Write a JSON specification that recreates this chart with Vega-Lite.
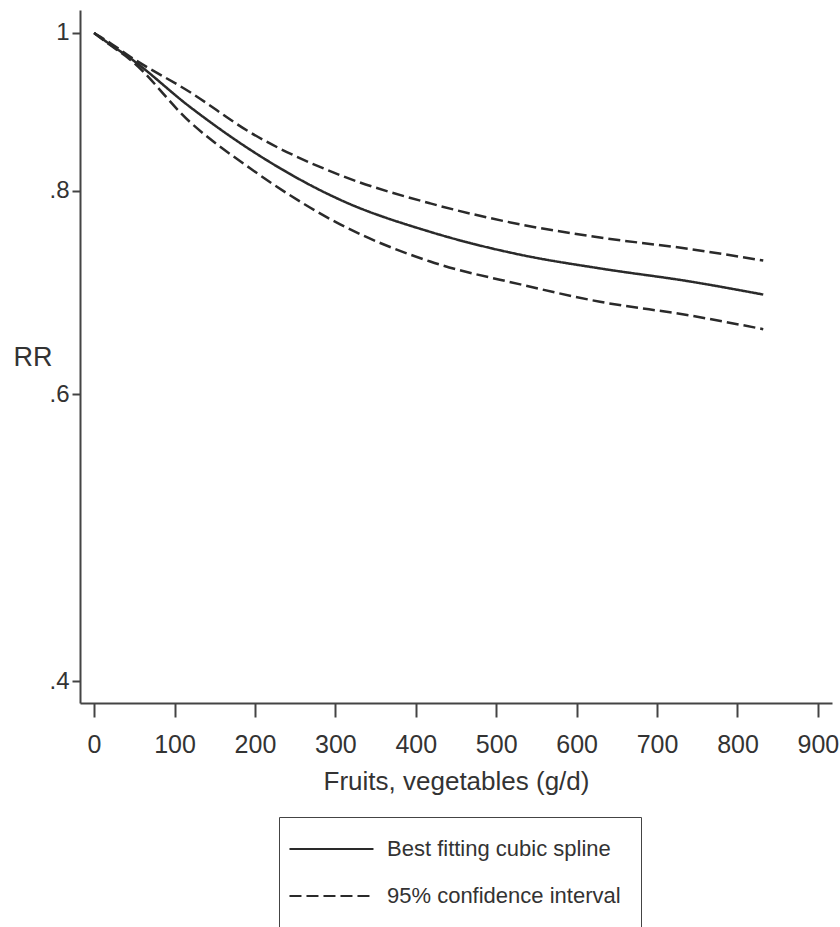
{
  "$schema": "https://vega.github.io/schema/vega-lite/v6.json",
  "width": 752,
  "height": 693,
  "autosize": "none",
  "padding": {"left": 80, "top": 10, "right": 8, "bottom": 224},
  "background": "white",
  "config": {
    "font": "Liberation Sans, Arial, sans-serif",
    "view": {"stroke": null},
    "axis": {"grid": false, "domainColor": "#444", "domainWidth": 2, "tickColor": "#444", "tickWidth": 2, "labelColor": "#333", "titleColor": "#333", "titleFontWeight": "normal"}
  },
  "data": {
    "values": [
      {"x": 0, "rr": 1.0, "curve": "fit", "series": "Best fitting cubic spline"},
      {"x": 20, "rr": 0.984, "curve": "fit", "series": "Best fitting cubic spline"},
      {"x": 45, "rr": 0.965, "curve": "fit", "series": "Best fitting cubic spline"},
      {"x": 119, "rr": 0.901, "curve": "fit", "series": "Best fitting cubic spline"},
      {"x": 194, "rr": 0.848, "curve": "fit", "series": "Best fitting cubic spline"},
      {"x": 306, "rr": 0.790, "curve": "fit", "series": "Best fitting cubic spline"},
      {"x": 418, "rr": 0.755, "curve": "fit", "series": "Best fitting cubic spline"},
      {"x": 530, "rr": 0.731, "curve": "fit", "series": "Best fitting cubic spline"},
      {"x": 629, "rr": 0.717, "curve": "fit", "series": "Best fitting cubic spline"},
      {"x": 740, "rr": 0.704, "curve": "fit", "series": "Best fitting cubic spline"},
      {"x": 832, "rr": 0.691, "curve": "fit", "series": "Best fitting cubic spline"},
      {"x": 0, "rr": 1.0, "curve": "upper", "series": "95% confidence interval"},
      {"x": 20, "rr": 0.986, "curve": "upper", "series": "95% confidence interval"},
      {"x": 45, "rr": 0.967, "curve": "upper", "series": "95% confidence interval"},
      {"x": 119, "rr": 0.920, "curve": "upper", "series": "95% confidence interval"},
      {"x": 194, "rr": 0.869, "curve": "upper", "series": "95% confidence interval"},
      {"x": 306, "rr": 0.818, "curve": "upper", "series": "95% confidence interval"},
      {"x": 418, "rr": 0.786, "curve": "upper", "series": "95% confidence interval"},
      {"x": 530, "rr": 0.763, "curve": "upper", "series": "95% confidence interval"},
      {"x": 629, "rr": 0.749, "curve": "upper", "series": "95% confidence interval"},
      {"x": 740, "rr": 0.737, "curve": "upper", "series": "95% confidence interval"},
      {"x": 832, "rr": 0.725, "curve": "upper", "series": "95% confidence interval"},
      {"x": 0, "rr": 1.0, "curve": "lower", "series": "95% confidence interval"},
      {"x": 20, "rr": 0.983, "curve": "lower", "series": "95% confidence interval"},
      {"x": 45, "rr": 0.963, "curve": "lower", "series": "95% confidence interval"},
      {"x": 119, "rr": 0.882, "curve": "lower", "series": "95% confidence interval"},
      {"x": 194, "rr": 0.826, "curve": "lower", "series": "95% confidence interval"},
      {"x": 306, "rr": 0.763, "curve": "lower", "series": "95% confidence interval"},
      {"x": 418, "rr": 0.724, "curve": "lower", "series": "95% confidence interval"},
      {"x": 530, "rr": 0.701, "curve": "lower", "series": "95% confidence interval"},
      {"x": 629, "rr": 0.684, "curve": "lower", "series": "95% confidence interval"},
      {"x": 740, "rr": 0.671, "curve": "lower", "series": "95% confidence interval"},
      {"x": 832, "rr": 0.658, "curve": "lower", "series": "95% confidence interval"}
    ]
  },
  "mark": {"type": "line", "interpolate": "monotone", "color": "#2a2a2a", "strokeWidth": 2.5},
  "encoding": {
    "x": {
      "field": "x", "type": "quantitative",
      "scale": {"domain": [-17.5, 917.5], "nice": false, "zero": false},
      "axis": {"values": [0, 100, 200, 300, 400, 500, 600, 700, 800, 900], "tickSize": 14, "labelFontSize": 25, "labelPadding": 15, "title": "Fruits, vegetables (g/d)", "titleFontSize": 26, "titlePadding": 11}
    },
    "y": {
      "field": "rr", "type": "quantitative",
      "scale": {"type": "log", "domain": [0.388, 1.033], "nice": false, "zero": false},
      "axis": {"values": [0.4, 0.6, 0.8, 1], "labelExpr": "datum.value == 1 ? '1' : '.' + format(datum.value * 10, '.0f')", "tickSize": 8, "labelFontSize": 24, "labelPadding": 3, "title": "RR", "titleFontSize": 27, "titleAngle": 0, "titleAlign": "left", "titleBaseline": "middle", "titleX": -67, "titleY": 347}
    },
    "detail": {"field": "curve"},
    "strokeDash": {
      "field": "series", "type": "nominal",
      "scale": {"domain": ["Best fitting cubic spline", "95% confidence interval"], "range": [[1, 0], [12, 5]]},
      "legend": {
        "title": null, "orient": "none", "legendX": 199, "legendY": 807,
        "padding": 20, "strokeColor": "#444", "fillColor": "white",
        "symbolType": "M-2.05,0H5.95", "symbolSize": 441, "symbolStrokeWidth": 2.2, "symbolStrokeColor": "#2a2a2a",
        "labelFontSize": 22, "labelOffset": 64, "labelLimit": 0, "labelColor": "#333", "rowPadding": 24
      }
    }
  }
}
